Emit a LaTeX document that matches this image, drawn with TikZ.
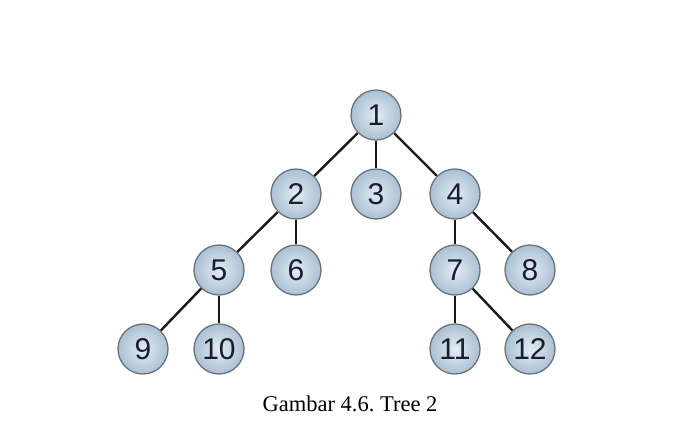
\documentclass[tikz,border=0pt]{standalone}
\usepackage{fontspec}
\setmainfont{Liberation Serif}
\newfontfamily\digitfont{Liberation Sans}
\usepackage{xcolor}
\definecolor{Col1}{RGB}{105,115,125}
\definecolor{Col2}{RGB}{225,236,245}
\definecolor{Col3}{RGB}{172,192,210}
\definecolor{Col4}{RGB}{25,30,45}
\usepackage{tikz}
\tikzstyle{Node}=[circle,draw=Col1,inner color=Col2,outer color=Col3,
line width=1.3pt,minimum size=50pt,inner sep=0pt,text=Col4,
font=\digitfont\fontsize{30}{30}\selectfont]
\tikzstyle{Edge}=[draw=black!90,line width=2.4pt]
\tikzstyle{Caption}=[font=\fontsize{22.5}{24}\selectfont,anchor=base]

\begin{document}
\frenchspacing
\begin{tikzpicture}[x=1pt,y=1pt]
        \useasboundingbox(0,0)rectangle(694,-442);
        \node[Node](1)at(376,-115){1};
        \node[Node](2)at(296,-194){2};
        \node[Node](3)at(376,-194){3};
        \node[Node](4)at(455,-194){4};
        \node[Node](5)at(219,-270){5};
        \node[Node](6)at(296,-270){6};
        \node[Node](7)at(455,-270){7};
        \node[Node](8)at(530,-270){8};
        \node[Node](9)at(143,-349){9};
        \node[Node](10)at(219,-349){10};
        \node[Node](11)at(455,-349){11};
        \node[Node](12)at(530,-349){12};
        \draw[Edge](1)--(2);
        \draw[Edge](1)--(3);
        \draw[Edge](1)--(4);
        \draw[Edge](2)--(5);
        \draw[Edge](2)--(6);
        \draw[Edge](4)--(7);
        \draw[Edge](4)--(8);
        \draw[Edge](5)--(9);
        \draw[Edge](5)--(10);
        \draw[Edge](7)--(11);
        \draw[Edge](7)--(12);
        \node[Caption](cap)at(350,-411){Gambar 4.6. Tree 2};
    \end{tikzpicture}
\end{document}
